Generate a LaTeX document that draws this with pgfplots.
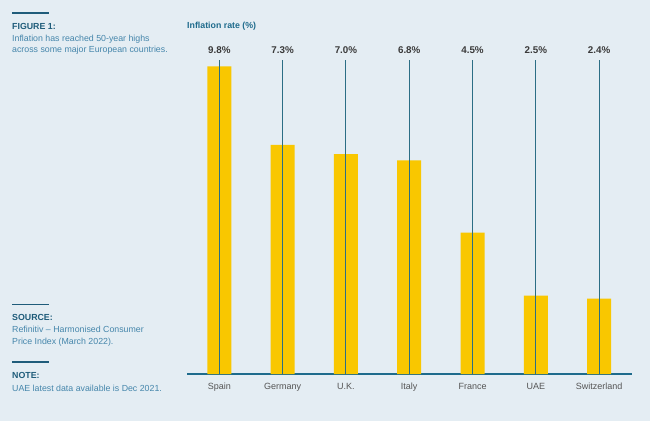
\documentclass[border=0pt]{standalone}
\usepackage{pgfplots}
\pgfplotsset{compat=1.18}
\usepackage{fontspec}
\setmainfont{Liberation Sans}
\definecolor{bg}{HTML}{E4EDF3}
\definecolor{head}{HTML}{1F5C7A}
\definecolor{body}{HTML}{4586AB}
\definecolor{stem}{HTML}{2B6E85}
\definecolor{axisc}{HTML}{1E6B8C}
\definecolor{baryel}{HTML}{F9C700}
\definecolor{lab}{HTML}{3A3A3A}
\definecolor{cat}{HTML}{555555}
\begin{document}
\begin{tikzpicture}[x=1pt,y=1pt]
\fill[bg] (0,0) rectangle (650,421);
% left annotations
\newcommand{\fs}{\fontsize{8.8}{10}\selectfont}
\draw[head,line width=1.8pt] (12,408) -- (49,408);
\node[anchor=base west,inner sep=0,head,font=\fs\bfseries] at (12,391.5) {FIGURE 1:};
\node[anchor=base west,inner sep=0,body,font=\fs] at (12,379.5) {Inflation has reached 50-year highs};
\node[anchor=base west,inner sep=0,body,font=\fs] at (12,368) {across some major European countries.};
\draw[head,line width=1.8pt] (12,116.5) -- (49,116.5);
\node[anchor=base west,inner sep=0,head,font=\fs\bfseries] at (12,100.5) {SOURCE:};
\node[anchor=base west,inner sep=0,body,font=\fs] at (12,88.5) {Refinitiv -- Harmonised Consumer};
\node[anchor=base west,inner sep=0,body,font=\fs] at (12,76.5) {Price Index (March 2022).};
\draw[head,line width=1.8pt] (12,59) -- (49,59);
\node[anchor=base west,inner sep=0,head,font=\fs\bfseries] at (12,42.5) {NOTE:};
\node[anchor=base west,inner sep=0,body,font=\fs] at (12,30) {UAE latest data available is Dec 2021.};
\node[anchor=base west,inner sep=0,axisc,font=\fs\bfseries] at (187,392) {Inflation rate (\%)};
\begin{axis}[
  at={(187.3pt,47pt)}, anchor=south west,
  scale only axis, width=444.4pt, height=345.4pt,
  xmin=-0.506, xmax=6.515, ymin=0, ymax=11,
  axis x line=bottom, axis y line=none,
  x axis line style={axisc,line width=1.3pt,-},
  xtick=data, xticklabels={Spain,Germany,U.K.,Italy,France,UAE,Switzerland},
  xtick style={draw=none},
  xticklabel style={font=\fontsize{9}{10}\selectfont, text=cat, yshift=-3.5pt},
  clip=false,
]
\addplot[ybar, bar width=24pt, fill=baryel, draw=none] coordinates {
  (0,9.8) (1,7.3) (2,7.0) (3,6.8) (4,4.5) (5,2.5) (6,2.4)};
\addplot[ycomb, stem, line width=1pt, mark=none,
  nodes near coords, point meta=explicit symbolic,
  every node near coord/.append style={font=\fontsize{9.8}{11}\selectfont\bfseries, text=lab, anchor=south, yshift=2.5pt}]
  coordinates {
  (0,10) [9.8\%] (1,10) [7.3\%] (2,10) [7.0\%] (3,10) [6.8\%]
  (4,10) [4.5\%] (5,10) [2.5\%] (6,10) [2.4\%]};
\end{axis}
\end{tikzpicture}
\end{document}
